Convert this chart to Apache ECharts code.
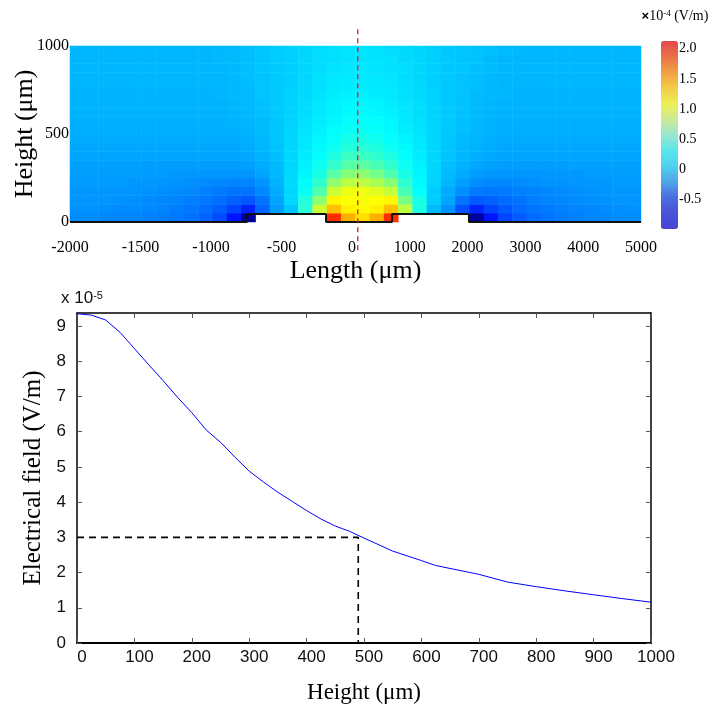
<!DOCTYPE html>
<html>
<head>
<meta charset="utf-8">
<script src="https://cdn.jsdelivr.net/npm/echarts@6/dist/echarts.min.js"></script>
<style>
html,body{margin:0;padding:0;background:#fff;}
#chart{width:719px;height:707px;}
</style>
</head>
<body>
<div id="chart"></div>
<script>
// ---- top panel: field map (values in 1e-4 V/m) ----
let lengthTicks = [-2000,-1500,-1000,-500,0,1000,2000,3000,4000,5000];
let heightTicks = [0,500,1000];
let colorbarTicks = [-0.5,0,0.5,1.0,1.5,2.0];
let fieldMin = -1.0, fieldMax = 2.13;
// electrode outline (length um, height um)
let profileLength = [-2000,-745,-745,-184,-184,692,692,2024,2024,5000];
let profileHeight = [0,0,45,45,0,0,45,45,0,0];
// red cut line
let cutLength = 100, cutFrom = -160, cutTo = 1100;
// rows from bottom (0-50um) to top (950-1000um), 40 columns left -> right, null = no field
let fieldRows = [
[-0.18,-0.18,-0.19,-0.2,-0.2,-0.21,-0.22,-0.24,-0.26,-0.3,-0.38,-0.55,-0.95,null,null,null,null,null,1.6,1.2,1.05,1.2,1.6,null,null,null,null,null,-0.95,-0.55,-0.4,-0.33,-0.28,-0.25,-0.23,-0.21,-0.2,-0.19,-0.18,-0.18],
[-0.16,-0.16,-0.17,-0.18,-0.18,-0.19,-0.2,-0.22,-0.24,-0.27,-0.32,-0.4,-0.5,-0.3,-0.12,0,0.3,0.8,1.15,1.0,0.97,1.0,1.15,0.75,0.25,-0.03,-0.16,-0.36,-0.5,-0.4,-0.33,-0.28,-0.25,-0.23,-0.21,-0.2,-0.19,-0.18,-0.17,-0.16],
[-0.15,-0.15,-0.15,-0.16,-0.17,-0.18,-0.19,-0.2,-0.22,-0.24,-0.27,-0.31,-0.34,-0.25,-0.1,0.05,0.28,0.6,0.98,0.95,0.93,0.95,0.98,0.55,0.25,0.02,-0.1,-0.25,-0.33,-0.31,-0.28,-0.25,-0.22,-0.2,-0.19,-0.18,-0.17,-0.16,-0.15,-0.15],
[-0.14,-0.14,-0.14,-0.15,-0.15,-0.16,-0.17,-0.18,-0.19,-0.21,-0.23,-0.25,-0.25,-0.19,-0.08,0.05,0.2,0.42,0.8,0.9,0.9,0.86,0.78,0.4,0.18,0.02,-0.08,-0.17,-0.23,-0.24,-0.23,-0.21,-0.2,-0.19,-0.18,-0.17,-0.16,-0.15,-0.14,-0.14],
[-0.13,-0.13,-0.13,-0.13,-0.14,-0.14,-0.15,-0.16,-0.17,-0.18,-0.19,-0.2,-0.2,-0.15,-0.06,0.06,0.17,0.32,0.62,0.75,0.75,0.7,0.6,0.32,0.16,0.04,-0.05,-0.12,-0.17,-0.19,-0.19,-0.18,-0.17,-0.16,-0.16,-0.15,-0.14,-0.14,-0.13,-0.13],
[-0.12,-0.12,-0.12,-0.12,-0.12,-0.13,-0.13,-0.14,-0.14,-0.15,-0.15,-0.15,-0.14,-0.1,-0.04,0.06,0.15,0.25,0.45,0.58,0.6,0.53,0.42,0.25,0.15,0.05,-0.03,-0.08,-0.12,-0.14,-0.15,-0.15,-0.15,-0.14,-0.14,-0.14,-0.13,-0.13,-0.12,-0.12],
[-0.11,-0.11,-0.11,-0.11,-0.11,-0.12,-0.12,-0.12,-0.12,-0.12,-0.12,-0.12,-0.11,-0.08,-0.03,0.05,0.13,0.21,0.33,0.44,0.45,0.4,0.32,0.21,0.13,0.05,-0.02,-0.06,-0.09,-0.11,-0.12,-0.12,-0.12,-0.12,-0.12,-0.11,-0.11,-0.11,-0.11,-0.11],
[-0.1,-0.1,-0.1,-0.1,-0.1,-0.1,-0.1,-0.1,-0.1,-0.1,-0.1,-0.1,-0.09,-0.06,-0.02,0.05,0.12,0.18,0.27,0.35,0.36,0.32,0.26,0.18,0.12,0.05,-0.01,-0.05,-0.07,-0.09,-0.1,-0.1,-0.1,-0.1,-0.1,-0.1,-0.1,-0.1,-0.1,-0.1],
[-0.09,-0.09,-0.09,-0.09,-0.09,-0.09,-0.09,-0.09,-0.09,-0.09,-0.09,-0.09,-0.08,-0.05,-0.01,0.05,0.11,0.16,0.22,0.28,0.29,0.26,0.21,0.16,0.11,0.05,0,-0.04,-0.06,-0.08,-0.09,-0.09,-0.09,-0.09,-0.09,-0.09,-0.09,-0.09,-0.09,-0.09],
[-0.08,-0.08,-0.08,-0.08,-0.08,-0.08,-0.08,-0.08,-0.08,-0.08,-0.08,-0.08,-0.07,-0.04,0,0.05,0.1,0.15,0.19,0.24,0.24,0.22,0.18,0.14,0.1,0.05,0,-0.03,-0.05,-0.07,-0.08,-0.08,-0.08,-0.08,-0.08,-0.08,-0.08,-0.08,-0.08,-0.08],
[-0.07,-0.07,-0.07,-0.07,-0.07,-0.07,-0.07,-0.07,-0.07,-0.07,-0.07,-0.07,-0.06,-0.03,0,0.05,0.09,0.13,0.17,0.2,0.2,0.19,0.16,0.12,0.09,0.05,0.01,-0.02,-0.04,-0.06,-0.07,-0.07,-0.07,-0.07,-0.07,-0.07,-0.07,-0.07,-0.07,-0.07],
[-0.07,-0.07,-0.07,-0.07,-0.07,-0.07,-0.07,-0.07,-0.07,-0.07,-0.07,-0.06,-0.05,-0.03,0,0.04,0.08,0.12,0.15,0.18,0.18,0.17,0.15,0.11,0.08,0.04,0.01,-0.02,-0.04,-0.06,-0.07,-0.07,-0.07,-0.07,-0.07,-0.07,-0.07,-0.07,-0.07,-0.07],
[-0.06,-0.06,-0.06,-0.06,-0.06,-0.06,-0.06,-0.06,-0.06,-0.06,-0.06,-0.05,-0.04,-0.02,0.01,0.04,0.07,0.11,0.14,0.16,0.16,0.15,0.13,0.1,0.07,0.04,0.01,-0.01,-0.03,-0.05,-0.06,-0.06,-0.06,-0.06,-0.06,-0.06,-0.06,-0.06,-0.06,-0.06],
[-0.06,-0.06,-0.06,-0.06,-0.06,-0.06,-0.06,-0.06,-0.06,-0.06,-0.06,-0.05,-0.04,-0.02,0.01,0.04,0.07,0.1,0.13,0.15,0.15,0.14,0.12,0.09,0.07,0.04,0.01,-0.01,-0.03,-0.05,-0.06,-0.06,-0.06,-0.06,-0.06,-0.06,-0.06,-0.06,-0.06,-0.06],
[-0.06,-0.06,-0.06,-0.06,-0.06,-0.06,-0.06,-0.06,-0.06,-0.06,-0.05,-0.04,-0.03,-0.01,0.01,0.04,0.06,0.09,0.12,0.13,0.13,0.12,0.11,0.08,0.06,0.04,0.01,-0.01,-0.03,-0.04,-0.05,-0.06,-0.06,-0.06,-0.06,-0.06,-0.06,-0.06,-0.06,-0.06],
[-0.05,-0.05,-0.05,-0.05,-0.05,-0.05,-0.05,-0.05,-0.05,-0.05,-0.05,-0.04,-0.03,-0.01,0.01,0.03,0.06,0.08,0.11,0.12,0.12,0.11,0.1,0.08,0.06,0.03,0.01,-0.01,-0.02,-0.04,-0.05,-0.05,-0.05,-0.05,-0.05,-0.05,-0.05,-0.05,-0.05,-0.05],
[-0.05,-0.05,-0.05,-0.05,-0.05,-0.05,-0.05,-0.05,-0.05,-0.05,-0.05,-0.04,-0.02,-0.01,0.01,0.03,0.05,0.08,0.1,0.11,0.11,0.1,0.09,0.07,0.05,0.03,0.01,-0.01,-0.02,-0.04,-0.05,-0.05,-0.05,-0.05,-0.05,-0.05,-0.05,-0.05,-0.05,-0.05],
[-0.05,-0.05,-0.05,-0.05,-0.05,-0.05,-0.05,-0.05,-0.05,-0.05,-0.05,-0.04,-0.02,0,0.01,0.03,0.05,0.07,0.09,0.1,0.1,0.09,0.08,0.07,0.05,0.03,0.01,0,-0.02,-0.03,-0.05,-0.05,-0.05,-0.05,-0.05,-0.05,-0.05,-0.05,-0.05,-0.05],
[-0.05,-0.05,-0.05,-0.05,-0.05,-0.05,-0.05,-0.05,-0.05,-0.05,-0.04,-0.03,-0.02,0,0.02,0.03,0.05,0.07,0.08,0.09,0.09,0.09,0.08,0.06,0.05,0.03,0.01,0,-0.01,-0.03,-0.05,-0.05,-0.05,-0.05,-0.05,-0.05,-0.05,-0.05,-0.05,-0.05],
[-0.05,-0.05,-0.05,-0.05,-0.05,-0.05,-0.05,-0.05,-0.05,-0.05,-0.04,-0.03,-0.02,0,0.02,0.04,0.05,0.07,0.08,0.09,0.09,0.08,0.07,0.06,0.05,0.03,0.01,0,-0.01,-0.02,-0.03,-0.04,-0.05,-0.05,-0.05,-0.05,-0.05,-0.05,-0.05,-0.05]
];

// ---- bottom panel: field along the cut (1e-5 V/m) ----
let heights = [0,25,50,75,100,125,150,175,200,225,250,275,300,325,350,375,400,425,450,475,500,550,600,625,700,750,800,850,900,950,1000];
let fields = [9.35,9.31,9.17,8.82,8.36,7.9,7.45,6.98,6.54,6.05,5.7,5.28,4.88,4.57,4.28,4.02,3.76,3.52,3.32,3.17,2.98,2.61,2.34,2.2,1.95,1.73,1.6,1.48,1.37,1.26,1.16];
let heightAxisTicks = [0,100,200,300,400,500,600,700,800,900,1000];
let fieldAxisTicks = [0,1,2,3,4,5,6,7,8,9];
let refHeight = 490, refField = 3;

// the length axis of the map is stretched differently left and right of 0
let posScale = 0.41;
function toU(L){ return L <= 0 ? L : L * posScale; }
function fromU(u){ return Math.round(u <= 0 ? u : u / posScale); }

let serif = "Liberation Serif";
let sans = "Liberation Sans";

let colIdx = fieldRows[0].map((v,i)=>String(i));
let rowIdx = fieldRows.map((r,i)=>String(i));
let fieldData = [];
fieldRows.forEach((row,r)=>{
	row.forEach((v,c)=>{
		if(v !== null) fieldData.push([c,r,v]);
	});
});

let jet = ['#00008f','#0000ff','#007fff','#00ffff','#7fff7f','#ffff00','#ff7f00','#ff0000','#7f0000'];
let pastel = ['#4646d2','#4a52d8','#4a6ce0','#50a4e6','#4fd0ee','#5ae6ec','#98e6cc','#cdea96','#f0ee56','#f2cc48','#f0a044','#ea7048','#e2484c'];

let frameTick = {inside:true, length:5, lineStyle:{color:'#555'}};

let chart = echarts.init(document.getElementById('chart'));
let opt = {
	backgroundColor: '#fff',
	animation: false,
	grid: [
		{left:70, top:46, width:571, height:176, outerBoundsMode:'none'},
		{left:77, top:313, width:574, height:330, outerBoundsMode:'none'},
		{left:661, top:41, width:17, height:188, outerBoundsMode:'none'}
	],
	xAxis: [
		{gridIndex:0, type:'category', data:colIdx, show:false, position:'top'},
		{
			gridIndex:0, type:'value', position:'bottom', min:toU(-2000), max:toU(5000),
			axisLine:{show:false, onZero:false}, axisTick:{show:false}, splitLine:{show:false},
			axisLabel:{
				customValues: lengthTicks.map(toU),
				formatter: v => String(fromU(v)),
				fontFamily: serif, fontSize:16, color:'#000', margin:18
			},
			name:'Length (μm)', nameLocation:'middle', nameGap:36, nameMoveOverlap:false,
			nameTextStyle:{fontFamily:serif, fontSize:26, color:'#000'}
		},
		{
			gridIndex:1, type:'value', position:'bottom', min:0, max:1000,
			axisLine:{onZero:false, lineStyle:{color:'#000', width:2}},
			axisTick:Object.assign({customValues:heightAxisTicks}, frameTick),
			splitLine:{show:false},
			axisLabel:{customValues:heightAxisTicks, formatter: v => String(v), fontFamily:sans, fontSize:17, color:'#111', margin:6, padding:[0,0,0,10]},
			name:'Height (μm)', nameLocation:'middle', nameGap:38, nameMoveOverlap:false,
			nameTextStyle:{fontFamily:serif, fontSize:23, color:'#000'}
		},
		{
			gridIndex:1, type:'value', position:'top', min:0, max:1000,
			axisLine:{onZero:false, lineStyle:{color:'#000', width:1.5}},
			axisTick:Object.assign({customValues:heightAxisTicks}, frameTick),
			axisLabel:{show:false}, splitLine:{show:false}
		},
		{gridIndex:2, type:'value', show:false}
	],
	yAxis: [
		{gridIndex:0, type:'category', data:rowIdx, show:false, position:'right'},
		{
			gridIndex:0, type:'value', position:'left', min:0, max:1000,
			axisLine:{show:false, onZero:false}, axisTick:{show:false}, splitLine:{show:false},
			axisLabel:{customValues:heightTicks, formatter: v => String(v), fontFamily:serif, fontSize:16, color:'#000', margin:1},
			name:'Height (μm)', nameLocation:'middle', nameGap:32, nameMoveOverlap:false,
			nameTextStyle:{fontFamily:serif, fontSize:26, color:'#000'}
		},
		{
			gridIndex:1, type:'value', position:'left', min:0, max:9.37,
			axisLine:{onZero:false, lineStyle:{color:'#000', width:1.5}},
			axisTick:Object.assign({customValues:fieldAxisTicks}, frameTick),
			splitLine:{show:false},
			axisLabel:{customValues:fieldAxisTicks, fontFamily:sans, fontSize:17, color:'#111', margin:11},
			name:'{a|x 10}{b|-5}', nameLocation:'end', nameGap:6, nameMoveOverlap:false,
			nameTextStyle:{
				padding:[0,0,0,10],
				rich:{
					a:{fontFamily:sans, fontSize:17, color:'#111'},
					b:{fontFamily:sans, fontSize:11, color:'#111', verticalAlign:'top'}
				}
			}
		},
		{
			gridIndex:1, type:'value', position:'right', min:0, max:9.37,
			axisLine:{onZero:false, lineStyle:{color:'#000', width:1.5}},
			axisTick:Object.assign({customValues:fieldAxisTicks}, frameTick),
			axisLabel:{show:false}, splitLine:{show:false}
		},
		{
			gridIndex:2, type:'value', min:fieldMin, max:fieldMax, position:'right',
			axisLine:{show:false}, axisTick:{show:false}, splitLine:{show:false},
			axisLabel:{
				customValues:colorbarTicks,
				formatter: v => v === 0 ? '0' : v.toFixed(1),
				fontFamily:serif, fontSize:14, color:'#000', margin:1
			},
			name:'{x|×}{a|10}{b|-4}{a| (V/m)}', nameLocation:'end', nameGap:18, nameMoveOverlap:false,
			nameTextStyle:{
				padding:[0,0,0,28],
				rich:{
					x:{fontFamily:sans, fontSize:13, fontWeight:'bold', color:'#000'},
					a:{fontFamily:serif, fontSize:14, color:'#000'},
					b:{fontFamily:serif, fontSize:9, color:'#000', verticalAlign:'top'}
				}
			}
		},
		{
			gridIndex:1, type:'value', position:'left', min:0, max:9.37,
			axisLine:{show:false, onZero:false}, axisTick:{show:false}, axisLabel:{show:false}, splitLine:{show:false},
			name:'Electrical field (V/m)', nameLocation:'middle', nameGap:31, nameMoveOverlap:false,
			nameTextStyle:{fontFamily:serif, fontSize:25, color:'#000'}
		}
	],
	visualMap: [
		{type:'continuous', show:false, seriesIndex:0, min:fieldMin, max:fieldMax, inRange:{color:jet}},
		{
			type:'continuous', show:true, seriesIndex:3, min:fieldMin, max:fieldMax,
			calculable:false, hoverLink:false, left:661, top:41, padding:0,
			itemWidth:17, itemHeight:188, inRange:{color:pastel}
		}
	],
	series: [
		{
			type:'heatmap', xAxisIndex:0, yAxisIndex:0, data:fieldData,
			silent:true, progressive:0, emphasis:{disabled:true}
		},
		{
			type:'line', xAxisIndex:1, yAxisIndex:1, silent:true, clip:false, z:5,
			data: profileLength.map((L,i)=>[toU(L), profileHeight[i]]),
			symbol:'none', lineStyle:{color:'#111', width:2}
		},
		{
			type:'line', xAxisIndex:1, yAxisIndex:1, silent:true, clip:false, z:6,
			data: [[toU(cutLength), cutFrom],[toU(cutLength), cutTo]],
			symbol:'none', lineStyle:{color:'#ee1111', width:1.3, type:[5,4]}
		},
		{type:'scatter', xAxisIndex:4, yAxisIndex:4, data:[]},
		{
			type:'line', xAxisIndex:2, yAxisIndex:2, silent:true,
			data: heights.map((h,i)=>[h, fields[i]]),
			symbol:'none', lineStyle:{color:'#0000ff', width:1}
		},
		{
			type:'line', xAxisIndex:2, yAxisIndex:2, silent:true,
			data: [[0,refField],[refHeight,refField],[refHeight,0]],
			symbol:'none', lineStyle:{color:'#000', width:1.6, type:[7,5]}
		}
	]
};
chart.setOption(opt);
</script>
</body>
</html>
